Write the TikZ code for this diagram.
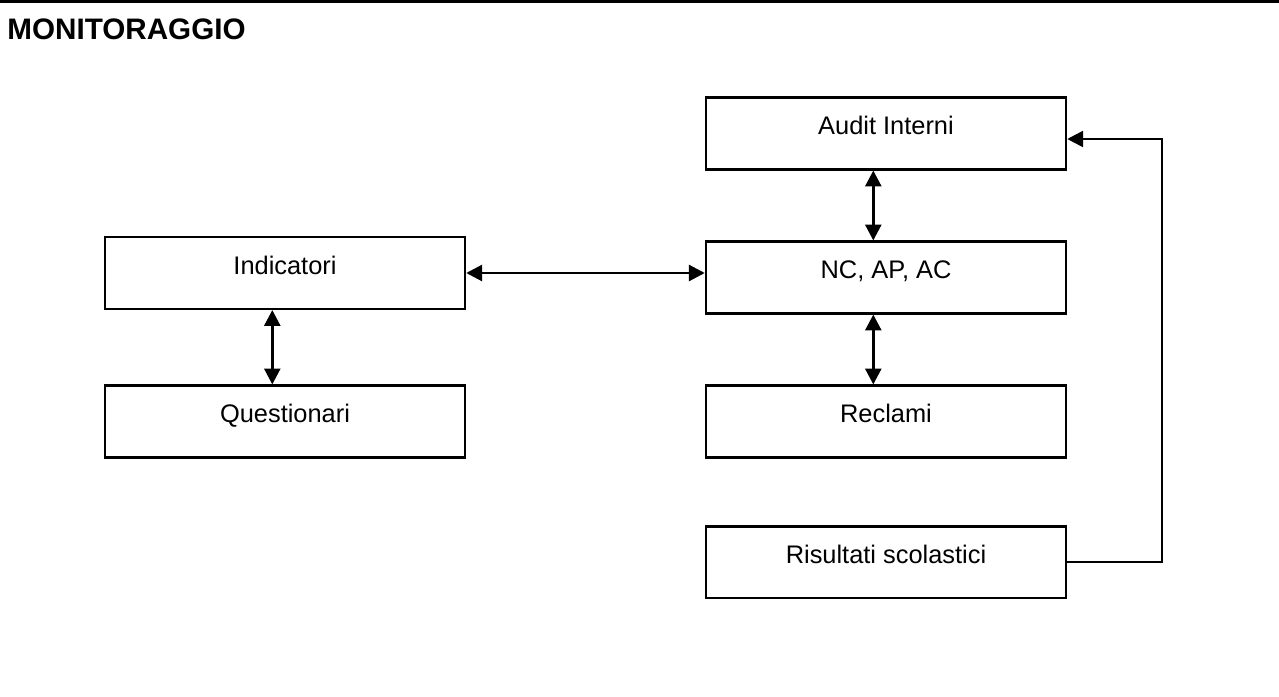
\documentclass[tikz,border=0pt]{standalone}
\usepackage{fontspec}
\setmainfont{Liberation Sans}
\usetikzlibrary{positioning,arrows.meta}

\begin{document}
\begin{tikzpicture}[
        x=0.4724pt, y=-0.4724pt,
        box/.style={rectangle, minimum width=170pt, minimum height=33.8pt, inner sep=0pt, text height=9pt, text depth=8pt, draw=black, line width=1.2pt, font=\fontsize{12}{14}\selectfont},
        arrow/.style={line width=1.35pt,<->,>={Triangle[length=7.5pt,width=7.5pt]}},
        feed/.style={line width=1.2pt,->,>={Triangle[length=7.5pt,width=7.5pt]}}
    ]
        \useasboundingbox (0,0) rectangle (1279,697);
        \draw[line width=1.3pt] (0,1.5) -- (1279,1.5);
        \node (title) [anchor=base west, inner sep=0pt, font=\fontsize{14}{16}\selectfont\bfseries] at (7,39) {MONITORAGGIO};

        \node (audit) [box] at (886,133.5) {Audit Interni};
        \node (ncapac) [box] at (886,277.5) {NC, AP, AC};
        \node (reclami) [box] at (886,421.5) {Reclami};
        \node (risultati) [box] at (886,562) {Risultati scolastici};
        \node (indicatori) [box] at (285,273) {Indicatori};
        \node (questionari) [box] at (285,421.5) {Questionari};

        \draw[arrow] ([xshift=-6pt]audit.south) -- ([xshift=-6pt]ncapac.north);
        \draw[arrow] ([xshift=-6pt]ncapac.south) -- ([xshift=-6pt]reclami.north);
        \draw[arrow] ([xshift=-6pt]indicatori.south) -- ([xshift=-6pt]questionari.north);
        \draw[arrow] (indicatori.east) -- (indicatori.east -| ncapac.west);
        \draw[feed] (risultati.east) -- ++(95,0) |- ([yshift=-2.6pt]audit.east);
    \end{tikzpicture}
\end{document}
